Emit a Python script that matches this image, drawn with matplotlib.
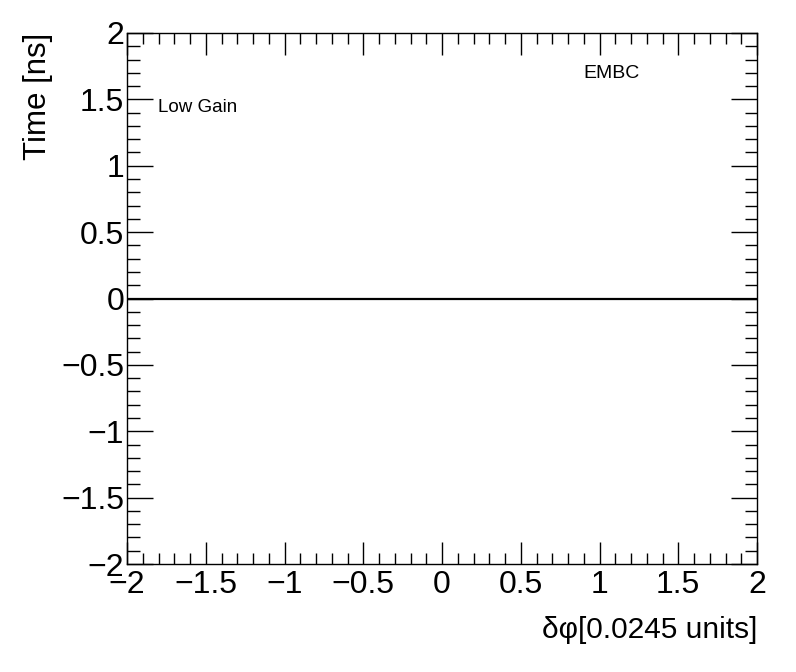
import matplotlib
matplotlib.use("Agg")
import matplotlib.pyplot as plt
from matplotlib.ticker import MultipleLocator

# Data
x_range = [-2, 2]
y_range = [-2, 2]
line_x = [-2, 2]
line_y = [0, 0]
x_label = "δφ[0.0245 units]"
y_label = "Time [ns]"
gain_text = "Low Gain"
region_text = "EMBC"

plt.rcParams['font.family'] = ['Liberation Sans', 'DejaVu Sans']
plt.rcParams['axes.unicode_minus'] = True

fig = plt.figure(figsize=(7.96, 6.72), dpi=100)
ax = fig.add_axes([127 / 796, 1 - 564 / 672, 630 / 796, 531 / 672])

ax.plot(line_x, line_y, color='black', linewidth=1.6)

ax.set_xlim(*x_range)
ax.set_ylim(*y_range)

ax.xaxis.set_major_locator(MultipleLocator(0.5))
ax.xaxis.set_minor_locator(MultipleLocator(0.1))
ax.yaxis.set_major_locator(MultipleLocator(0.5))
ax.yaxis.set_minor_locator(MultipleLocator(0.1))

ax.tick_params(axis='both', which='both', direction='in', top=True, right=True,
               width=1, labelsize=23)
ax.tick_params(axis='x', which='major', length=16, pad=4)
ax.tick_params(axis='x', which='minor', length=8)
ax.tick_params(axis='y', which='major', length=19, pad=2)
ax.tick_params(axis='y', which='minor', length=9)

for spine in ax.spines.values():
    spine.set_linewidth(1)

ax.set_xticklabels([f"{v:g}".replace('-', '\u2212') for v in ax.get_xticks()])
ax.set_yticklabels([f"{v:g}".replace('-', '\u2212') for v in ax.get_yticks()])

ax.set_xlabel(x_label, fontsize=21.5, loc='right', labelpad=12)
ax.set_ylabel(y_label, fontsize=22.5, loc='top', labelpad=6)

fig.text(158 / 796, 1 - 108 / 672, gain_text, fontsize=13.5, va='center', ha='left')
fig.text(583 / 796, 1 - 73 / 672, region_text, fontsize=14, va='center', ha='left')

fig.savefig("out.png", dpi=100)
